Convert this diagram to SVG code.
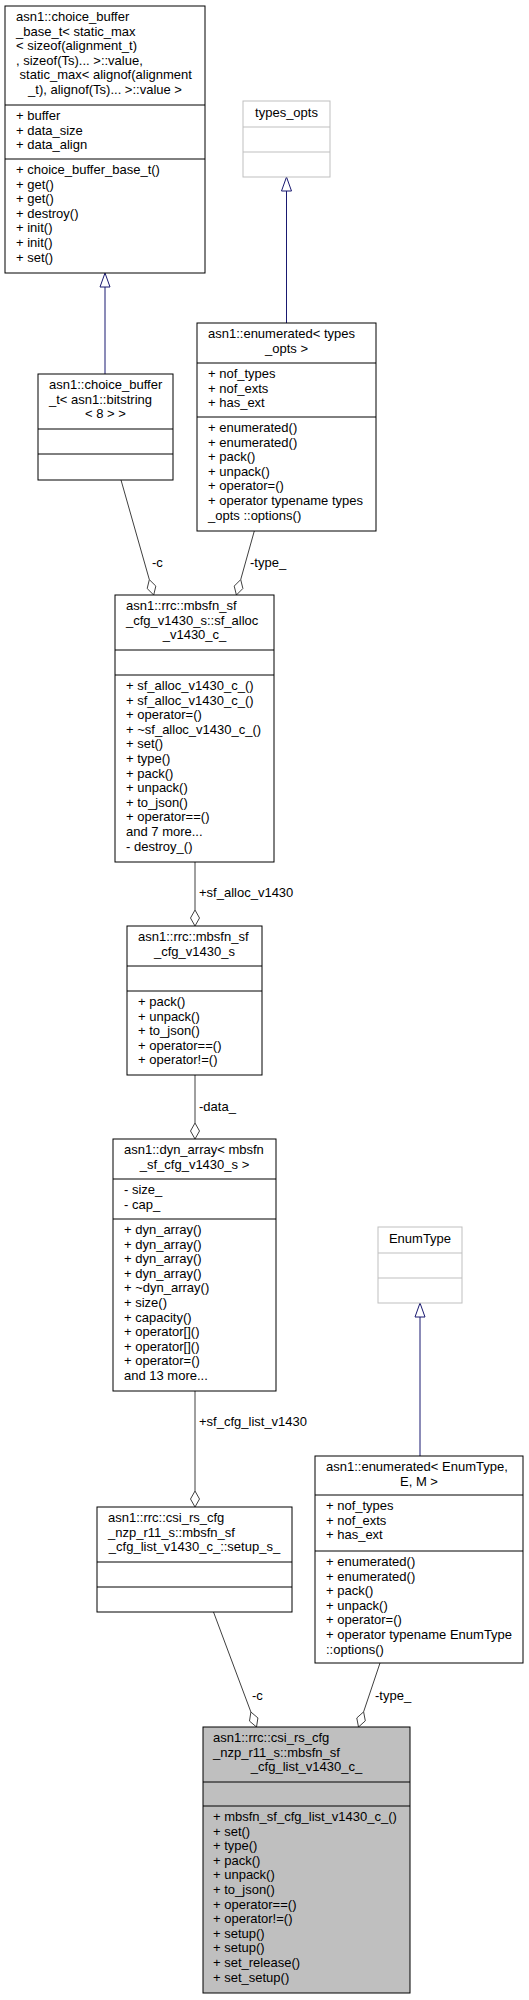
<svg xmlns="http://www.w3.org/2000/svg" width="529" height="2000" viewBox="0 0 529 2000">
<style>
text{font-family:"Liberation Sans",Arial,sans-serif;font-size:13px;fill:#000}
.m{text-anchor:middle}
.box{fill:#fff;stroke:#000;stroke-width:1}
.gbox{fill:#fff;stroke:#bfbfbf;stroke-width:1}
.cur{fill:#bfbfbf;stroke:#000;stroke-width:1}
.sep{stroke:#000;stroke-width:1}
.gsep{stroke:#bfbfbf;stroke-width:1}
.inh{stroke:#191970;stroke-width:1;fill:none}
.inhh{stroke:#191970;stroke-width:1;fill:#fff}
.agg{stroke:#404040;stroke-width:1;fill:none}
.aggh{stroke:#404040;stroke-width:1;fill:#fff}
</style>
<rect width="529" height="2000" fill="#fff"/>
<g id="connectors">
<line class="inh" x1="105" y1="374" x2="105" y2="287"/>
<polygon class="inhh" points="105,273 110,287 100,287"/>
<line class="inh" x1="286.5" y1="323" x2="286.5" y2="191"/>
<polygon class="inhh" points="286.5,177 291.5,191 281.5,191"/>
<line class="inh" x1="420" y1="1456" x2="420" y2="1317"/>
<polygon class="inhh" points="420,1303 425,1317 415,1317"/>
<line class="agg" x1="121" y1="480" x2="149.33" y2="579.62"/>
<polygon class="aggh" points="153.7,595 155.84,586.08 149.33,579.62 147.18,588.54"/>
<text x="152" y="567">-c</text>
<line class="agg" x1="254.3" y1="531" x2="240.71" y2="579.59"/>
<polygon class="aggh" points="236.4,595 242.89,588.51 240.71,579.59 234.23,586.09"/>
<text x="250" y="567">-type_</text>
<line class="agg" x1="195" y1="862" x2="195" y2="910"/>
<polygon class="aggh" points="195,926 199.5,918 195,910 190.5,918"/>
<text x="199" y="897">+sf_alloc_v1430</text>
<line class="agg" x1="195" y1="1075" x2="195" y2="1123"/>
<polygon class="aggh" points="195,1139 199.5,1131 195,1123 190.5,1131"/>
<text x="199" y="1111">-data_</text>
<line class="agg" x1="195" y1="1391" x2="195" y2="1491"/>
<polygon class="aggh" points="195,1507 199.5,1499 195,1491 190.5,1499"/>
<text x="199" y="1426">+sf_cfg_list_v1430</text>
<line class="agg" x1="213.5" y1="1612" x2="250.9" y2="1712.02"/>
<polygon class="aggh" points="256.5,1727 257.91,1717.93 250.9,1712.02 249.49,1721.09"/>
<text x="252" y="1700">-c</text>
<line class="agg" x1="380" y1="1663" x2="363.6" y2="1711.83"/>
<polygon class="aggh" points="358.5,1727 365.32,1720.85 363.6,1711.83 356.78,1717.99"/>
<text x="375" y="1700">-type_</text>
</g>
<g id="node_choice_buffer_base">
<rect class="box" x="5" y="6" width="200" height="267"/>
<line class="sep" x1="5" y1="105" x2="205" y2="105"/>
<line class="sep" x1="5" y1="159" x2="205" y2="159"/>
<text x="16" y="21">asn1::choice_buffer</text>
<text x="16" y="35.6">_base_t&lt; static_max</text>
<text x="16" y="50.2">&lt; sizeof(alignment_t)</text>
<text x="16" y="64.8">, sizeof(Ts)... &gt;::value,</text>
<text x="19.6" y="79.4">static_max&lt; alignof(alignment</text>
<text class="m" x="105" y="94">_t), alignof(Ts)... &gt;::value &gt;</text>
<text x="16" y="120">+ buffer</text>
<text x="16" y="134.6">+ data_size</text>
<text x="16" y="149.2">+ data_align</text>
<text x="16" y="174">+ choice_buffer_base_t()</text>
<text x="16" y="188.6">+ get()</text>
<text x="16" y="203.2">+ get()</text>
<text x="16" y="217.8">+ destroy()</text>
<text x="16" y="232.4">+ init()</text>
<text x="16" y="247">+ init()</text>
<text x="16" y="261.6">+ set()</text>
</g>
<g id="node_types_opts">
<rect class="gbox" x="243" y="101" width="87" height="76"/>
<line class="gsep" x1="243" y1="127" x2="330" y2="127"/>
<line class="gsep" x1="243" y1="152" x2="330" y2="152"/>
<text class="m" x="286.5" y="116.5">types_opts</text>
</g>
<g id="node_enumerated_types_opts">
<rect class="box" x="197" y="323" width="179" height="208"/>
<line class="sep" x1="197" y1="363" x2="376" y2="363"/>
<line class="sep" x1="197" y1="417" x2="376" y2="417"/>
<text x="208" y="338">asn1::enumerated&lt; types</text>
<text class="m" x="286.5" y="352.6">_opts &gt;</text>
<text x="208" y="378">+ nof_types</text>
<text x="208" y="392.6">+ nof_exts</text>
<text x="208" y="407.2">+ has_ext</text>
<text x="208" y="432">+ enumerated()</text>
<text x="208" y="446.6">+ enumerated()</text>
<text x="208" y="461.2">+ pack()</text>
<text x="208" y="475.8">+ unpack()</text>
<text x="208" y="490.4">+ operator=()</text>
<text x="208" y="505">+ operator typename types</text>
<text x="208" y="519.6">_opts ::options()</text>
</g>
<g id="node_choice_buffer_t">
<rect class="box" x="38" y="374" width="135" height="106"/>
<line class="sep" x1="38" y1="429" x2="173" y2="429"/>
<line class="sep" x1="38" y1="454" x2="173" y2="454"/>
<text x="49" y="389">asn1::choice_buffer</text>
<text x="49" y="403.6">_t&lt; asn1::bitstring</text>
<text class="m" x="105.5" y="418.2">&lt; 8 &gt; &gt;</text>
</g>
<g id="node_sf_alloc">
<rect class="box" x="115" y="595" width="159" height="267"/>
<line class="sep" x1="115" y1="650" x2="274" y2="650"/>
<line class="sep" x1="115" y1="675" x2="274" y2="675"/>
<text x="126" y="610">asn1::rrc::mbsfn_sf</text>
<text x="126" y="624.6">_cfg_v1430_s::sf_alloc</text>
<text class="m" x="194.5" y="639.2">_v1430_c_</text>
<text x="126" y="690">+ sf_alloc_v1430_c_()</text>
<text x="126" y="704.6">+ sf_alloc_v1430_c_()</text>
<text x="126" y="719.2">+ operator=()</text>
<text x="126" y="733.8">+ ~sf_alloc_v1430_c_()</text>
<text x="126" y="748.4">+ set()</text>
<text x="126" y="763">+ type()</text>
<text x="126" y="777.6">+ pack()</text>
<text x="126" y="792.2">+ unpack()</text>
<text x="126" y="806.8">+ to_json()</text>
<text x="126" y="821.4">+ operator==()</text>
<text x="126" y="836">and 7 more...</text>
<text x="126" y="850.6">- destroy_()</text>
</g>
<g id="node_mbsfn_sf_cfg">
<rect class="box" x="127" y="926" width="135" height="149"/>
<line class="sep" x1="127" y1="966" x2="262" y2="966"/>
<line class="sep" x1="127" y1="991" x2="262" y2="991"/>
<text x="138" y="941">asn1::rrc::mbsfn_sf</text>
<text class="m" x="194.5" y="955.6">_cfg_v1430_s</text>
<text x="138" y="1006">+ pack()</text>
<text x="138" y="1020.6">+ unpack()</text>
<text x="138" y="1035.2">+ to_json()</text>
<text x="138" y="1049.8">+ operator==()</text>
<text x="138" y="1064.4">+ operator!=()</text>
</g>
<g id="node_dyn_array">
<rect class="box" x="113" y="1139" width="163" height="252"/>
<line class="sep" x1="113" y1="1179" x2="276" y2="1179"/>
<line class="sep" x1="113" y1="1219" x2="276" y2="1219"/>
<text x="124" y="1154">asn1::dyn_array&lt; mbsfn</text>
<text class="m" x="194.5" y="1168.6">_sf_cfg_v1430_s &gt;</text>
<text x="124" y="1194">- size_</text>
<text x="124" y="1208.6">- cap_</text>
<text x="124" y="1234">+ dyn_array()</text>
<text x="124" y="1248.6">+ dyn_array()</text>
<text x="124" y="1263.2">+ dyn_array()</text>
<text x="124" y="1277.8">+ dyn_array()</text>
<text x="124" y="1292.4">+ ~dyn_array()</text>
<text x="124" y="1307">+ size()</text>
<text x="124" y="1321.6">+ capacity()</text>
<text x="124" y="1336.2">+ operator[]()</text>
<text x="124" y="1350.8">+ operator[]()</text>
<text x="124" y="1365.4">+ operator=()</text>
<text x="124" y="1380">and 13 more...</text>
</g>
<g id="node_setup_s">
<rect class="box" x="97" y="1507" width="195" height="105"/>
<line class="sep" x1="97" y1="1562" x2="292" y2="1562"/>
<line class="sep" x1="97" y1="1587" x2="292" y2="1587"/>
<text x="108" y="1522">asn1::rrc::csi_rs_cfg</text>
<text x="108" y="1536.6">_nzp_r11_s::mbsfn_sf</text>
<text class="m" x="194.5" y="1551.2">_cfg_list_v1430_c_::setup_s_</text>
</g>
<g id="node_EnumType">
<rect class="gbox" x="378" y="1227" width="84" height="76"/>
<line class="gsep" x1="378" y1="1253" x2="462" y2="1253"/>
<line class="gsep" x1="378" y1="1278" x2="462" y2="1278"/>
<text class="m" x="420" y="1242.5">EnumType</text>
</g>
<g id="node_enumerated_EnumType">
<rect class="box" x="315" y="1456" width="208" height="207"/>
<line class="sep" x1="315" y1="1495" x2="523" y2="1495"/>
<line class="sep" x1="315" y1="1551" x2="523" y2="1551"/>
<text x="326" y="1471">asn1::enumerated&lt; EnumType,</text>
<text class="m" x="419" y="1485.6">E, M &gt;</text>
<text x="326" y="1510">+ nof_types</text>
<text x="326" y="1524.6">+ nof_exts</text>
<text x="326" y="1539.2">+ has_ext</text>
<text x="326" y="1566">+ enumerated()</text>
<text x="326" y="1580.6">+ enumerated()</text>
<text x="326" y="1595.2">+ pack()</text>
<text x="326" y="1609.8">+ unpack()</text>
<text x="326" y="1624.4">+ operator=()</text>
<text x="326" y="1639">+ operator typename EnumType</text>
<text x="326" y="1653.6">::options()</text>
</g>
<g id="node_mbsfn_sf_cfg_list">
<rect class="cur" x="203" y="1727" width="207" height="266"/>
<line class="sep" x1="203" y1="1782" x2="410" y2="1782"/>
<line class="sep" x1="203" y1="1806" x2="410" y2="1806"/>
<text x="213" y="1742">asn1::rrc::csi_rs_cfg</text>
<text x="213" y="1756.6">_nzp_r11_s::mbsfn_sf</text>
<text class="m" x="306.5" y="1771.2">_cfg_list_v1430_c_</text>
<text x="213" y="1821">+ mbsfn_sf_cfg_list_v1430_c_()</text>
<text x="213" y="1835.6">+ set()</text>
<text x="213" y="1850.2">+ type()</text>
<text x="213" y="1864.8">+ pack()</text>
<text x="213" y="1879.4">+ unpack()</text>
<text x="213" y="1894">+ to_json()</text>
<text x="213" y="1908.6">+ operator==()</text>
<text x="213" y="1923.2">+ operator!=()</text>
<text x="213" y="1937.8">+ setup()</text>
<text x="213" y="1952.4">+ setup()</text>
<text x="213" y="1967">+ set_release()</text>
<text x="213" y="1981.6">+ set_setup()</text>
</g>
</svg>
